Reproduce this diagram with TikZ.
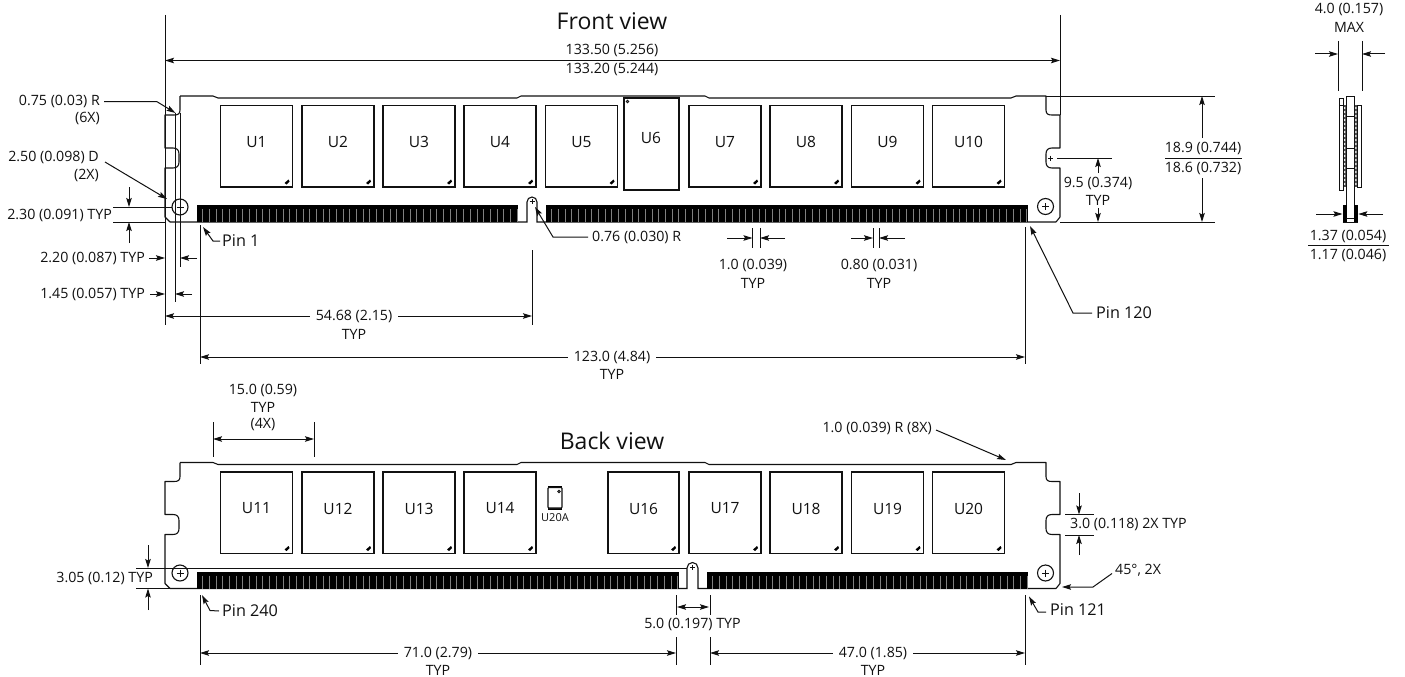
\documentclass[tikz,border=0pt]{standalone}
\usepackage{fontspec}
\setmainfont{Open Sans}
\usetikzlibrary{arrows.meta}
\definecolor{ink}{HTML}{111111}
\tikzset{
  lbl/.style={inner sep=0pt,text=ink,font=\fontsize{14.2}{17}\selectfont},
  pinlbl/.style={inner sep=0pt,text=ink,font=\fontsize{16.2}{19}\selectfont},
  gaplbl/.style={lbl,inner xsep=6pt},
  title/.style={inner sep=0pt,text=ink,font=\fontsize{23}{27}\selectfont},
  ln/.style={draw=ink,line width=1pt},
  board/.style={draw=ink,line width=1.1pt},
  chip/.style={draw=ink,line width=1.1pt,fill=white},
  arr/.style={ln,-{Stealth[length=9pt,width=5.5pt,inset=1.5pt]}},
  arrb/.style={ln,{Stealth[length=9pt,width=5.5pt,inset=1.5pt]}-{Stealth[length=9pt,width=5.5pt,inset=1.5pt]}},
}
\newcommand{\myfingers}[3]{% x0, n, ytop
  \fill[black] (#1,#3) rectangle ({#1+#2*6.69},{#3+17});
  \foreach \i in {1,...,#2}{
    \draw[white!50!black,line width=0.5pt] ({#1+\i*6.69-1.2},{#3+4}) -- ({#1+\i*6.69-1.2},{#3+17});
  }
}
\newcommand{\mychip}[5]{% name x0 x1 y0 label
  \path[chip] (#2,#4) rectangle (#3,{#4+81.5});
  \fill[black] ({#3-8},{#4+77.5}) -- ({#3-4},{#4+74}) -- ({#3-3},{#4+76}) -- ({#3-6},{#4+79}) -- cycle;
  \node[inner sep=0pt,text=ink,font=\fontsize{15.5}{18}\selectfont] (#1) at ({(#2+#3)/2},{#4+36.5}) {#5};
}
\newcommand{\myoutline}[1]{%
  \begin{scope}[yshift=-#1pt]
  \draw[board,line join=round] (180,96)--(213,96)--(218,98)--(517,98)--(521,96)--(705,96)--(709,98)--(1011,98)--(1016,96)--(1046,96)--(1046,110)
   .. controls (1046,114) and (1048,115) .. (1052,115) -- (1060,115) -- (1060,148) -- (1052,148)
   .. controls (1048,148) and (1046,150) .. (1046,154) -- (1046,162)
   .. controls (1046,166) and (1048,168) .. (1052,168) -- (1060,168) -- (1060,217) -- (1056,222);
  \draw[board,line join=round] (180,96)--(180,110)
   .. controls (180,114) and (178,115) .. (174,115) -- (165,115) -- (165,148) -- (173,148)
   .. controls (177,148) and (179,150) .. (179,154) -- (179,162)
   .. controls (179,166) and (177,168) .. (173,168) -- (165,168) -- (165,217) -- (170,222);
  \end{scope}
}
\newcommand{\myplus}[3]{% x y half
  \draw[ink,line width=0.8pt] ({#1-#3},#2) -- ({#1+#3},#2) ({#1},{#2-#3}) -- ({#1},{#2+#3});
}
\begin{document}
\begin{tikzpicture}[x=1pt,y=-1pt]
\path[use as bounding box,fill=white] (0,0) rectangle (1405,677);

% ---------- FRONT VIEW ----------
\node[title] (tfront) at (612,21) {Front view};
\myoutline{0}
\draw[board] (170,222) -- (527,222) -- (527,202) arc[start angle=180,end angle=360,radius=5] -- (537,222) -- (1056,222);
\myfingers{197}{48}{205}
\myfingers{546}{72}{205}
\foreach \n/\a/\b/\t in {a1/220.5/292.5/U1,a2/302/374/U2,a3/383/455/U3,a4/464/536/U4,a5/545.5/617.5/U5,a7/689/761/U7,a8/770/842/U8,a9/851.5/923.5/U9,a10/932.5/1004.5/U10}{
  \mychip{\n}{\a}{\b}{105.5}{\t}
}
\path[chip] (624,98) rectangle (679,190);
\draw[ink,line width=0.9pt] (627.5,101.5) circle[radius=1.3];
\node[inner sep=0pt,text=ink,font=\fontsize{15.5}{18}\selectfont] (a6) at (651,138) {U6};
% holes
\draw[board] (180,207) circle[radius=8];
\myplus{180}{207}{3.5}
\draw[board] (1045.5,206.5) circle[radius=8];
\myplus{1045.5}{206.5}{3.5}
\myplus{532}{201.5}{2.5}
\myplus{1050.5}{158}{2.5}

% overall width
\draw[ln] (165,15) -- (165,325);
\draw[ln] (1060,15) -- (1060,115);
\coordinate (wl) at (165,60.5);
\coordinate (wr) at (1060,60.5);
\draw[arrb] (wl) -- (wr);
\node[lbl] (w1) at (612,50) {133.50 (5.256)};
\node[lbl] (w2) at (612,69) {133.20 (5.244)};

% left notes
\node[lbl,anchor=east] (r1) at (100,101) {0.75 (0.03) R};
\node[lbl,anchor=east] (r2) at (100,118) {(6X)};
\coordinate (r1k) at (157,101.7);
\coordinate (r1t) at (175.5,113);
\draw[arr] (104,101.7) -- (r1k) -- (r1t);
\node[lbl,anchor=east] (d1) at (99,157) {2.50 (0.098) D};
\node[lbl,anchor=east] (d2) at (99,175) {(2X)};
\coordinate (d1t) at (167,199);
\draw[arr] (105,162) -- (d1t);

\node[lbl,anchor=east] (h1) at (112,215) {2.30 (0.091) TYP};
\draw[ln] (113,207) -- (172,207);
\draw[ln] (113,222) -- (165,222);
\draw[arr] (129,187) -- (129,207);
\draw[arr] (129,243) -- (129,222);

\draw[ln] (175,113) -- (175,302);
\draw[ln] (180,113) -- (180,267);
\draw[ln] (200,225) -- (200,364);

\node[lbl,anchor=east] (h2) at (145,258) {2.20 (0.087) TYP};
\draw[arr] (h2.east) ++(4,0) -- (165,258);
\draw[arr] (197,258) -- (180,258);
\node[lbl,anchor=east] (h3) at (145,294) {1.45 (0.057) TYP};
\draw[arr] (h3.east) ++(5,0) -- (165,294);
\draw[arr] (192,294) -- (175,294);

\node[pinlbl,anchor=west] (p1) at (222,241) {Pin 1};
\coordinate (p1k) at (213,241);
\coordinate (p1t) at (203,227);
\draw[arr] (p1.west) ++(-2,0) -- (p1k) -- (p1t);

% 0.76
\node[lbl,anchor=west] (n76) at (592,237) {0.76 (0.030) R};
\coordinate (n76k) at (553,237);
\coordinate (n76t) at (535,207);
\draw[arr] (n76.west) ++(-4,0) -- (n76k) -- (n76t);

% 54.68
\draw[ln] (532,250) -- (532,325);
\node[gaplbl] (t54) at (354,316) {54.68 (2.15)};
\node[lbl] (t54b) at (354,334) {TYP};
\draw[arr] (t54.west) -- (165,316);
\draw[arr] (t54.east) -- (532,316);

% 123.0
\draw[ln] (1025,227) -- (1025,364);
\node[gaplbl] (t123) at (612,357) {123.0 (4.84)};
\node[lbl] (t123b) at (612,374) {TYP};
\draw[arr] (t123.west) -- (200,357);
\draw[arr] (t123.east) -- (1025,357);

% pitch
\draw[ln] (752.5,228) -- (752.5,248);
\draw[ln] (760,228) -- (760,248);
\draw[arr] (727,238) -- (752.5,238);
\draw[arr] (785,238) -- (760,238);
\node[lbl] (t10) at (753,265) {1.0 (0.039)};
\node[lbl] (t10b) at (753,283) {TYP};
\draw[ln] (873,228) -- (873,248);
\draw[ln] (879,228) -- (879,248);
\draw[arr] (851,238) -- (873,238);
\draw[arr] (905,238) -- (879,238);
\node[lbl] (t08) at (879,265) {0.80 (0.031)};
\node[lbl] (t08b) at (879,283) {TYP};

% Pin 120
\node[pinlbl,anchor=west] (p120) at (1096,313) {Pin 120};
\coordinate (p120k) at (1073,313);
\coordinate (p120t) at (1030,226);
\draw[arr] (p120.west) ++(-4,0) -- (p120k) -- (p120t);

% height
\draw[ln] (1046,96) -- (1215,96);
\draw[ln] (1060,222) -- (1215,222);
\node[lbl] (s1) at (1203,148) {18.9 (0.744)};
\node[lbl] (s2) at (1203,168) {18.6 (0.732)};
\draw[ln] (1165,158) -- (1242,158);
\draw[arr] (1202,138) -- (1202,96);
\draw[arr] (1202,178) -- (1202,222);

% 9.5
\draw[ln] (1057,158) -- (1112,158);
\node[lbl] (t95) at (1098,183) {9.5 (0.374)};
\node[lbl] (t95b) at (1098,200) {TYP};
\draw[arr] (1098,173) -- (1098,158);
\draw[arr] (1098,208) -- (1098,222);

% ---------- SIDE VIEW ----------
\node[lbl] (m1) at (1349,9) {4.0 (0.157)};
\node[lbl] (m2) at (1349,27) {MAX};
\draw[ln] (1338,41) -- (1338,91);
\draw[ln] (1362,41) -- (1362,91);
\draw[arr] (1315,54) -- (1338,54);
\draw[arr] (1385,54) -- (1362,54);
\fill[white!30!black] (1343.5,105) rectangle (1346,187);
\fill[white!30!black] (1354.5,105) rectangle (1357,187);
\foreach \yy in {108,112,...,186}{
  \draw[white,line width=0.4pt] (1344.7,\yy) circle[radius=0.7];
  \draw[white,line width=0.4pt] (1355.8,\yy) circle[radius=0.7];
}
\draw[ln,fill=white,line width=0.8pt] (1339.3,98) rectangle (1343.5,190);
\draw[ln,line width=0.8pt] (1339.3,105.5) -- (1343.5,105.5);
\draw[ln,fill=white,line width=0.8pt] (1357,105) rectangle (1361.5,187);
\draw[ln,fill=white] (1346,96) rectangle (1354.3,222);
\foreach \yy in {116,148,168}{\draw[ln] (1346,\yy) -- (1354.3,\yy);}
\fill[black] (1342.5,205) rectangle (1346.5,222);
\fill[black] (1354,205) rectangle (1358.3,222);
\draw[ln] (1346,218) -- (1354.3,218);
\draw[ln] (1342.5,222) -- (1358.3,222);
\draw[arr] (1316,214) -- (1342.5,214);
\draw[arr] (1383,214) -- (1358.3,214);
\node[lbl] (q1) at (1348,236) {1.37 (0.054)};
\node[lbl] (q2) at (1348,255) {1.17 (0.046)};
\draw[ln] (1308,245.5) -- (1389,245.5);

% ---------- BACK VIEW ----------
\node[title] (tback) at (612,441) {Back view};
\myoutline{366.5}
\draw[board] (170,588.5) -- (687,588.5) -- (687,568) arc[start angle=180,end angle=360,radius=5.5] -- (698,588.5) -- (1056,588.5);
\myfingers{197}{72}{571.5}
\myfingers{707}{48}{571.5}
\foreach \n/\a/\b/\t in {b1/220.5/292.5/U11,b2/302/374/U12,b3/383/455/U13,b4/464/536/U14,b6/608/679/U16,b7/689/761/U17,b8/770/842/U18,b9/851.5/923.5/U19,b10/932.5/1004.5/U20}{
  \mychip{\n}{\a}{\b}{472}{\t}
}
% U20A
\foreach \xx in {549,551,553,555,557,559,561}{
  \fill[black] (\xx-0.8,485.5) rectangle (\xx+0.8,488);
  \fill[black] (\xx-0.8,507.5) rectangle (\xx+0.8,510);
}
\draw[chip,rounded corners=0.8pt] (548,487.5) rectangle (562,508);
\draw[ink,line width=0.8pt] (559,491.5) circle[radius=1.3];
\node[inner sep=0pt,text=ink,font=\fontsize{11}{13}\selectfont] (u20a) at (555,517.5) {U20A};
% holes
\draw[board] (180,573) circle[radius=8];
\myplus{180}{573}{3.5}
\draw[board] (1045.5,573) circle[radius=8];
\myplus{1045.5}{573}{3.5}
\myplus{692.5}{567.5}{2.5}

% 15.0
\node[lbl] (t15) at (263,390) {15.0 (0.59)};
\node[lbl] (t15b) at (263,407) {TYP};
\node[lbl] (t15c) at (263,425) {(4X)};
\draw[ln] (213,422) -- (213,457);
\draw[ln] (314,422) -- (314,457);
\draw[arrb] (213,439) -- (314,439);

% 1.0 R
\node[lbl,anchor=east] (rr) at (932,428) {1.0 (0.039) R (8X)};
\coordinate (rrt) at (1006,460);
\draw[arr] (rr.east) ++(4,2) -- (rrt);

% 3.05
\node[lbl,anchor=east] (t305) at (153,578) {3.05 (0.12) TYP};
\draw[ln] (136,568) -- (687,568);
\draw[ln] (136,588.5) -- (170,588.5);
\draw[arr] (148,545) -- (148,568);
\draw[arr] (148,610) -- (148,588.5);

% Pin 240
\node[pinlbl,anchor=west] (p240) at (222,611) {Pin 240};
\coordinate (p240k) at (210,610.5);
\coordinate (p240t) at (202,595);
\draw[arr] (p240.west) ++(-3,0) -- (p240k) -- (p240t);

\draw[ln] (200,595) -- (200,665);
% 71.0
\node[gaplbl] (t71) at (438,653) {71.0 (2.79)};
\node[lbl] (t71b) at (438,670) {TYP};
\draw[arr] (t71.west) -- (200,653);
\draw[arr] (t71.east) -- (676,653);
% 5.0
\node[lbl] (t50) at (692.5,624) {5.0 (0.197) TYP};
\draw[ln] (676,595) -- (676,615);
\draw[ln] (710,595) -- (710,615);
\draw[ln] (676,637) -- (676,665);
\draw[ln] (710,637) -- (710,665);
\draw[arrb] (677,607) -- (709,607);
% 47.0
\node[gaplbl] (t47) at (873,653) {47.0 (1.85)};
\node[lbl] (t47b) at (873,670) {TYP};
\draw[arr] (t47.west) -- (710,653);
\draw[arr] (t47.east) -- (1025,653);
\draw[ln] (1025,595) -- (1025,665);

% Pin 121
\node[pinlbl,anchor=west] (p121) at (1050,610) {Pin 121};
\coordinate (p121k) at (1038,612);
\coordinate (p121t) at (1029,596.5);
\draw[arr] (p121.west) ++(-4,2) -- (p121k) -- (p121t);

% 45
\node[lbl,anchor=west] (t45) at (1115,570) {45°, 2X};
\coordinate (t45k) at (1093,587);
\coordinate (t45t) at (1062,587);
\draw[arr] (1112,573.5) -- (t45k) -- (t45t);

% 3.0
\draw[ln] (1065,514.5) -- (1094,514.5);
\draw[ln] (1065,535) -- (1094,535);
\draw[arr] (1079,493) -- (1079,514.5);
\draw[arr] (1079,555) -- (1079,535);
\node[lbl,anchor=west] (t30) at (1070,524) {3.0 (0.118) 2X TYP};
\end{tikzpicture}
\end{document}
